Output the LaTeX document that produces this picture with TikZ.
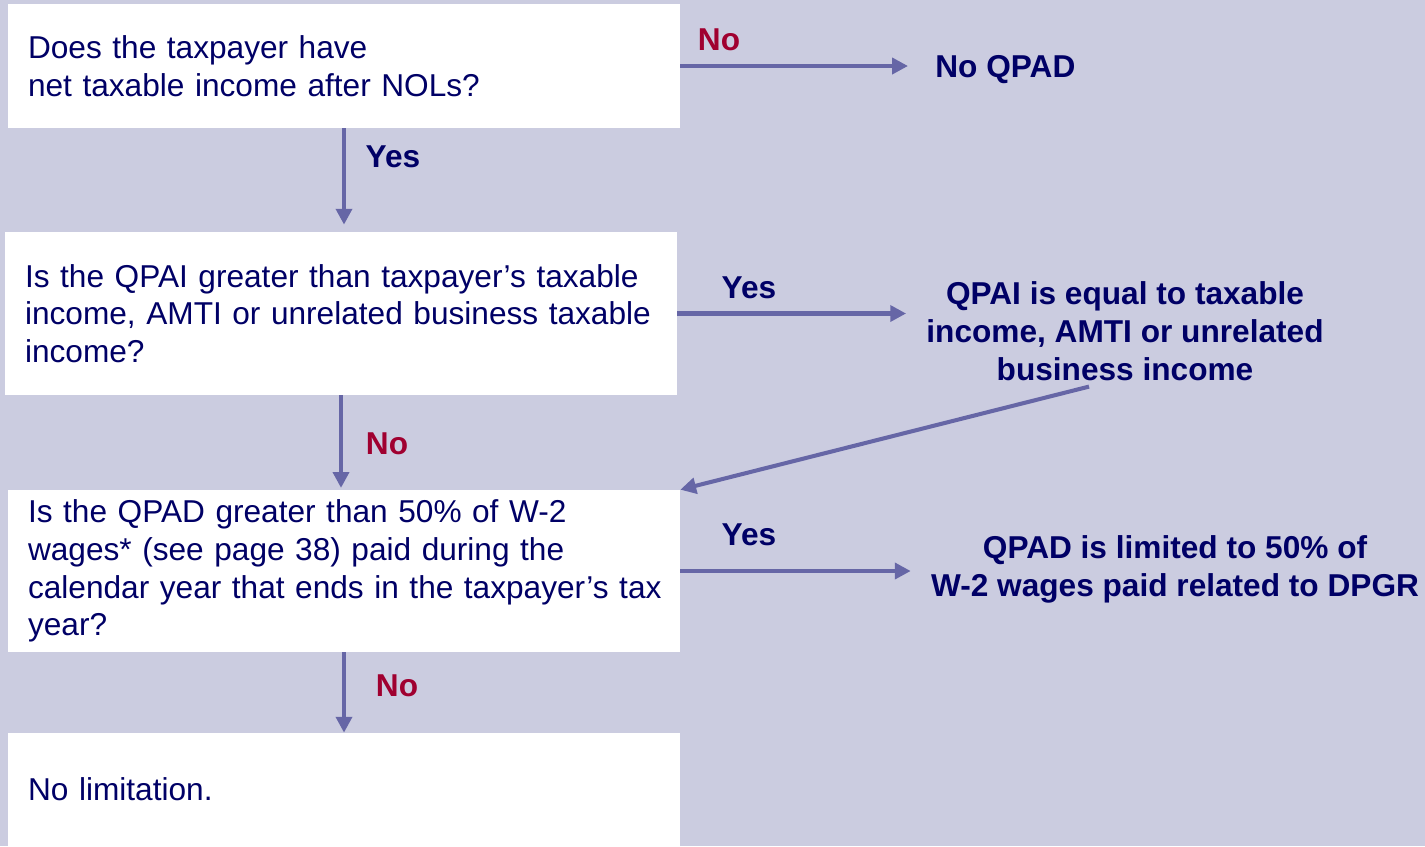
\documentclass[tikz,border=0pt]{standalone}
\usepackage{fontspec}
\setmainfont{Liberation Sans}
\usetikzlibrary{arrows.meta, positioning}
\definecolor{bgblue}{HTML}{CBCCE0}
\definecolor{flowblue}{HTML}{6666A6}
\definecolor{navy}{HTML}{000066}
\definecolor{nored}{HTML}{A00030}

\begin{document}
\begin{tikzpicture}[x=0.02cm, y=-0.02cm,
  qbox/.style={fill=white, minimum width=13.44cm, text width=12.64cm, inner xsep=0.4cm, inner ysep=0pt, align=left, text=navy, font=\fontsize{18}{21.5}\selectfont},
  result/.style={text=navy, inner xsep=0.4cm, align=center, font=\bfseries\fontsize{18}{21.5}\selectfont},
  yeslbl/.style={text=navy, font=\bfseries\fontsize{18}{21.5}\selectfont},
  nolbl/.style={text=nored, font=\bfseries\fontsize{18}{21.5}\selectfont},
  flow/.style={draw=flowblue, line width=2.3pt, -{Triangle[length=9pt,width=9pt]}}]
\useasboundingbox (0,0) rectangle (1425,846);
\fill[bgblue] (0,0) rectangle (1425,846);
% question boxes
\node[qbox, minimum height=2.48cm] (q1) at (344,66) {Does the taxpayer have\\net taxable income after NOLs?};
\node[qbox, minimum height=3.26cm] (q2) at (341,313.5) {Is the QPAI greater than taxpayer’s taxable\\income, AMTI or unrelated business taxable\\income?};
\node[qbox, minimum height=3.24cm] (q3) at (344,571) {Is the QPAD greater than 50\% of W-2\\wages* (see page 38) paid during the\\\mbox{calendar year that ends in the taxpayer’s tax}\\year?};
\node[qbox, minimum height=2.26cm] (q4) at (344,789.5) {No limitation.};
% outcomes
\node[result, anchor=west] (noqpad) at (915,70) {No QPAD};
\node[result] (res2) at (1125,331) {QPAI is equal to taxable\\income, AMTI or unrelated\\business income};
\node[result] (res3) at (1175,569) {QPAD is limited to 50\% of\\W-2 wages paid related to DPGR};
% connectors
\draw[flow, shorten >=0.14cm] (q1.east) -- (q1.east -| noqpad.west);
\draw[flow, shorten >=4pt] (q1.south) -- (q1.south |- q2.north);
\draw[flow] (q2.east) -- (q2.east -| res2.west);
\draw[flow, shorten >=1pt] (q2.south) -- (q2.south |- q3.north);
\draw[flow] ([xshift=-0.72cm]res2.south) -- (q3.north east);
\draw[flow] (q3.east) -- (q3.east -| res3.west);
\draw[flow] (q3.south) -- (q3.south |- q4.north);
% labels
\node[nolbl] (no1) at (719,40) {No};
\node[yeslbl] (yes1) at (393,157) {Yes};
\node[yeslbl] (yes2) at (749,288) {Yes};
\node[nolbl] (no2) at (387,444) {No};
\node[yeslbl] (yes3) at (749,535) {Yes};
\node[nolbl] (no3) at (397,686) {No};
\end{tikzpicture}
\end{document}
